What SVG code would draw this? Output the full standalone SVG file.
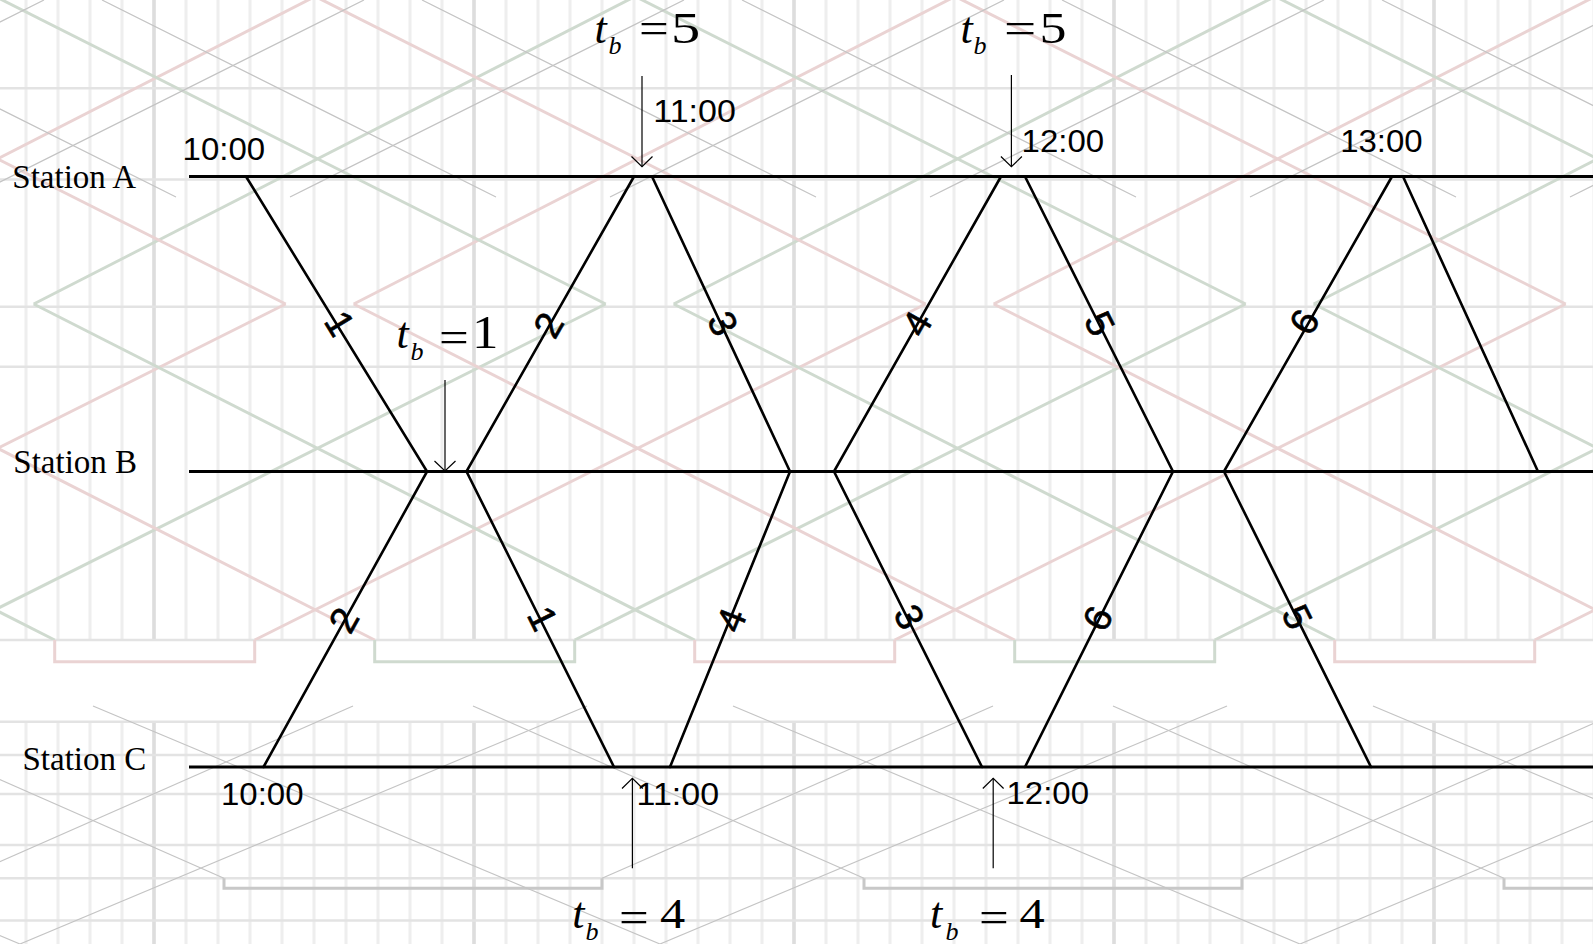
<svg xmlns="http://www.w3.org/2000/svg" width="1593" height="944" viewBox="0 0 1593 944">
<style>
.st{stroke:#000;stroke-width:3;fill:none}
.tr{stroke:#000;stroke-width:2.6;fill:none;stroke-linecap:round}
.ar{stroke:#000;stroke-width:1.2;fill:none}
.lbl{font-family:"Liberation Serif","Times New Roman",serif;font-size:33px;fill:#000}
.tm{font-family:"Liberation Sans",Arial,sans-serif;font-size:31px;fill:#000}
.num{font-family:"Liberation Sans",Arial,sans-serif;font-size:38px;fill:#000;stroke:#000;stroke-width:0.6;text-anchor:middle}
.mi{font-family:"Liberation Serif","Times New Roman",serif;font-style:italic;fill:#000}
.mn{font-family:"Liberation Serif","Times New Roman",serif;fill:#000}
.gv{stroke:#eeeeee;stroke-width:3}
.gvt{stroke:#dddddd;stroke-width:3.5}
.gh{stroke:#e3e3e3;stroke-width:2.5}
.pk{stroke:#ead3d3;stroke-width:3;fill:none}
.gn{stroke:#cfdacf;stroke-width:3;fill:none}
.gy{stroke:#c4c4c4;stroke-width:1.2;fill:none}
.gyb{stroke:#c8c8c8;stroke-width:3;fill:none}
</style>
<defs>
<pattern id="vgrid" patternUnits="userSpaceOnUse" x="10" y="0" width="32" height="944">
<line class="gv" x1="16" y1="0" x2="16" y2="944"/>
</pattern>
<pattern id="ghostColor" patternUnits="userSpaceOnUse" x="0" y="0" width="640" height="944">
<line class="pk" x1="254.7" y1="640" x2="925.7" y2="304"/>
<line class="pk" x1="-385.3" y1="640" x2="285.7" y2="304"/>
<line class="gn" x1="574.7" y1="640" x2="1245.7" y2="304"/>
<line class="gn" x1="-65.3" y1="640" x2="605.7" y2="304"/>
<line class="gn" x1="33.7" y1="304" x2="694.7" y2="640"/>
<line class="gn" x1="-606.3" y1="304" x2="54.7" y2="640"/>
<line class="pk" x1="353.7" y1="304" x2="1014.7" y2="640"/>
<line class="pk" x1="-286.3" y1="304" x2="374.7" y2="640"/>
<line class="gn" x1="33.7" y1="304" x2="694.7" y2="-34"/>
<line class="gn" x1="-606.3" y1="304" x2="54.7" y2="-34"/>
<line class="pk" x1="353.7" y1="304" x2="1014.7" y2="-34"/>
<line class="pk" x1="-286.3" y1="304" x2="374.7" y2="-34"/>
<line class="pk" x1="254.7" y1="-34" x2="925.7" y2="304"/>
<line class="pk" x1="-385.3" y1="-34" x2="285.7" y2="304"/>
<line class="gn" x1="574.7" y1="-34" x2="1245.7" y2="304"/>
<line class="gn" x1="-65.3" y1="-34" x2="605.7" y2="304"/>
</pattern>
<pattern id="ghostGrayTop" patternUnits="userSpaceOnUse" x="0" y="0" width="320" height="944">
<line class="gy" x1="102" y1="0" x2="496" y2="197"/>
<line class="gy" x1="-218" y1="0" x2="176" y2="197"/>
<line class="gy" x1="290" y1="197" x2="684" y2="0"/>
<line class="gy" x1="-30" y1="197" x2="364" y2="0"/>
<line class="gy" x1="-350" y1="197" x2="44" y2="0"/>
</pattern>
<pattern id="ghostGrayBot" patternUnits="userSpaceOnUse" x="0" y="0" width="640" height="944">
<polyline class="gyb" points="224,878.3 224,888.3 602,888.3 602,878.3"/>
<line class="gy" x1="473" y1="706" x2="864" y2="878.3"/>
<line class="gy" x1="-167" y1="706" x2="224" y2="878.3"/>
<line class="gy" x1="602" y1="878.3" x2="993" y2="706"/>
<line class="gy" x1="-38" y1="878.3" x2="353" y2="706"/>
<line class="gy" x1="20" y1="944" x2="587" y2="706"/>
<line class="gy" x1="93" y1="706" x2="660" y2="944"/>
<line class="gy" x1="-547" y1="706" x2="20" y2="944"/>
</pattern>
</defs>

<g id="background">
<rect x="0" y="0" width="1593" height="944" fill="#ffffff"/>
<rect x="0" y="0" width="1593" height="640" fill="url(#vgrid)"/>
<rect x="0" y="721.7" width="1593" height="222.3" fill="url(#vgrid)"/>
<g>
<line class="gvt" x1="154" y1="0" x2="154" y2="640"/><line class="gvt" x1="154" y1="721.7" x2="154" y2="944"/>
<line class="gvt" x1="474" y1="0" x2="474" y2="640"/><line class="gvt" x1="474" y1="721.7" x2="474" y2="944"/>
<line class="gvt" x1="794" y1="0" x2="794" y2="640"/><line class="gvt" x1="794" y1="721.7" x2="794" y2="944"/>
<line class="gvt" x1="1114" y1="0" x2="1114" y2="640"/><line class="gvt" x1="1114" y1="721.7" x2="1114" y2="944"/>
<line class="gvt" x1="1434" y1="0" x2="1434" y2="640"/><line class="gvt" x1="1434" y1="721.7" x2="1434" y2="944"/>
</g>
<g>
<line class="gh" x1="0" y1="88.3" x2="1593" y2="88.3"/>
<line class="gh" x1="0" y1="179.5" x2="1593" y2="179.5"/>
<line class="gh" x1="0" y1="306.7" x2="1593" y2="306.7"/>
<line class="gh" x1="0" y1="366.7" x2="1593" y2="366.7"/>
<line class="gh" x1="0" y1="640" x2="1593" y2="640"/>
<line class="gh" x1="0" y1="721.7" x2="1593" y2="721.7"/>
<line class="gh" x1="0" y1="755" x2="1593" y2="755"/>
<line class="gh" x1="0" y1="794" x2="1593" y2="794"/>
<line class="gh" x1="0" y1="845" x2="1593" y2="845"/>
<line class="gh" x1="0" y1="878.3" x2="1593" y2="878.3"/>
<line class="gh" x1="0" y1="920.5" x2="1593" y2="920.5"/>
</g>
<rect x="0" y="0" width="1593" height="640" fill="url(#ghostColor)"/>
<rect x="0" y="0" width="1593" height="200" fill="url(#ghostGrayTop)"/>
<rect x="0" y="700" width="1593" height="244" fill="url(#ghostGrayBot)"/>
<g>
<polyline class="pk" stroke-width="4" points="54.7,640 54.7,661.7 254.7,661.7 254.7,640"/>
<polyline class="gn" stroke-width="4" points="374.7,640 374.7,661.7 574.7,661.7 574.7,640"/>
<polyline class="pk" stroke-width="4" points="694.7,640 694.7,661.7 894.7,661.7 894.7,640"/>
<polyline class="gn" stroke-width="4" points="1014.7,640 1014.7,661.7 1214.7,661.7 1214.7,640"/>
<polyline class="pk" stroke-width="4" points="1334.7,640 1334.7,661.7 1534.7,661.7 1534.7,640"/>
</g>
</g>

<g id="station-a">
<line class="st" x1="189" y1="176.5" x2="1593" y2="176.5"/>
<text class="lbl" x="12.3" y="188.3">Station A</text>
</g>
<g id="station-b">
<line class="st" x1="189" y1="471.5" x2="1593" y2="471.5"/>
<text class="lbl" x="13.3" y="473.3">Station B</text>
</g>
<g id="station-c">
<line class="st" x1="189" y1="767" x2="1593" y2="767"/>
<text class="lbl" x="22.5" y="770">Station C</text>
</g>

<g id="connectors">
<polyline id="train-1" class="tr" points="246,176.5 427,471.5 466.5,471.5 614,767"/>
<polyline id="train-2" class="tr" points="263.5,767 427,471.5 466.5,471.5 634,176.5"/>
<polyline id="train-3" class="tr" points="652,176.5 790,471.5 834,471.5 982,767"/>
<polyline id="train-4" class="tr" points="670,767 790,471.5 834,471.5 1001,176.5"/>
<polyline id="train-5" class="tr" points="1025,176.5 1173,471.5 1224,471.5 1371,767"/>
<polyline id="train-6" class="tr" points="1025,767 1173,471.5 1224,471.5 1392,176.5"/>
<line id="train-7" class="tr" x1="1403" y1="176.5" x2="1538" y2="471.5"/>
</g>

<g id="train-numbers">
<text class="num" transform="translate(340,323.3) rotate(58.5)" y="13.5">1</text>
<text class="num" transform="translate(548.3,325) rotate(-60.4)" y="13.5">2</text>
<text class="num" transform="translate(723.3,323.3) rotate(64.9)" y="13.5">3</text>
<text class="num" transform="translate(916.7,323.3) rotate(-60.5)" y="13.5">4</text>
<text class="num" transform="translate(1100,323.3) rotate(63.4)" y="13.5">5</text>
<text class="num" transform="translate(1304,321.7) rotate(-60.3)" y="13.5">6</text>
<text class="num" transform="translate(343.5,620) rotate(-61)" y="13.5">2</text>
<text class="num" transform="translate(543,618.3) rotate(63.5)" y="13.5">1</text>
<text class="num" transform="translate(731,620) rotate(-67.9)" y="13.5">4</text>
<text class="num" transform="translate(909.5,616.7) rotate(63.4)" y="13.5">3</text>
<text class="num" transform="translate(1097.5,618.3) rotate(-63.4)" y="13.5">6</text>
<text class="num" transform="translate(1297.5,616.7) rotate(63.6)" y="13.5">5</text>
</g>

<g id="times">
<text class="tm" x="182.6" y="160" textLength="82.5" lengthAdjust="spacingAndGlyphs">10:00</text>
<text class="tm" x="653.3" y="121.7" textLength="82.5" lengthAdjust="spacingAndGlyphs">11:00</text>
<text class="tm" x="1021.6" y="151.7" textLength="82.5" lengthAdjust="spacingAndGlyphs">12:00</text>
<text class="tm" x="1340.2" y="151.7" textLength="82.5" lengthAdjust="spacingAndGlyphs">13:00</text>
<text class="tm" x="221" y="804.5" textLength="82.5" lengthAdjust="spacingAndGlyphs">10:00</text>
<text class="tm" x="636.6" y="804.5" textLength="82.5" lengthAdjust="spacingAndGlyphs">11:00</text>
<text class="tm" x="1006.5" y="803.5" textLength="82.5" lengthAdjust="spacingAndGlyphs">12:00</text>
</g>

<g id="tb-5-a">
<text class="mi" x="594.5" y="43.3" font-size="44">t</text>
<text class="mi" x="608.5" y="53.5" font-size="26">b</text>
<text class="mn" transform="translate(639,43.3) scale(1.2,1)" font-size="44">=</text>
<text class="mn" transform="translate(671,43.3) scale(1.3,1)" font-size="45">5</text>
<line class="ar" x1="642" y1="76" x2="642" y2="166.7"/>
<polyline class="ar" points="631.5,156.5 642,166.7 652.5,156.5"/>
</g>
<g id="tb-5-b">
<text class="mi" x="960.5" y="43.3" font-size="44">t</text>
<text class="mi" x="973.5" y="53.5" font-size="26">b</text>
<text class="mn" transform="translate(1004,43.3) scale(1.3,1)" font-size="44">=</text>
<text class="mn" transform="translate(1039.5,43.3) scale(1.2,1)" font-size="45">5</text>
<line class="ar" x1="1011.4" y1="75" x2="1011.4" y2="166.7"/>
<polyline class="ar" points="1000.9,156.5 1011.4,166.7 1021.9,156.5"/>
</g>
<g id="tb-1">
<text class="mi" x="396.5" y="348.3" font-size="44">t</text>
<text class="mi" x="410.5" y="360" font-size="26">b</text>
<text class="mn" transform="translate(439,351.6) scale(1.2,1)" font-size="44">=</text>
<text class="mn" transform="translate(472,348.3) scale(1.15,1)" font-size="46">1</text>
<line class="ar" x1="445" y1="380" x2="445" y2="471"/>
<polyline class="ar" points="434.5,461 445,471 455.5,461"/>
</g>
<g id="tb-4-a">
<text class="mi" x="572.3" y="928.3" font-size="44">t</text>
<text class="mi" x="585.5" y="940" font-size="26">b</text>
<text class="mn" transform="translate(619,931.6) scale(1.2,1)" font-size="44">=</text>
<text class="mn" transform="translate(660,928.3) scale(1.2,1)" font-size="42">4</text>
<line class="ar" x1="632.4" y1="868.3" x2="632.4" y2="778.3"/>
<polyline class="ar" points="622,788.5 632.4,778.3 642.8,788.5"/>
</g>
<g id="tb-4-b">
<text class="mi" x="930" y="928.3" font-size="44">t</text>
<text class="mi" x="945.5" y="940" font-size="26">b</text>
<text class="mn" transform="translate(979,931.6) scale(1.2,1)" font-size="44">=</text>
<text class="mn" transform="translate(1019.5,928.3) scale(1.2,1)" font-size="42">4</text>
<line class="ar" x1="993.2" y1="868.3" x2="993.2" y2="778.3"/>
<polyline class="ar" points="982.8,788.5 993.2,778.3 1003.6,788.5"/>
</g>
</svg>
